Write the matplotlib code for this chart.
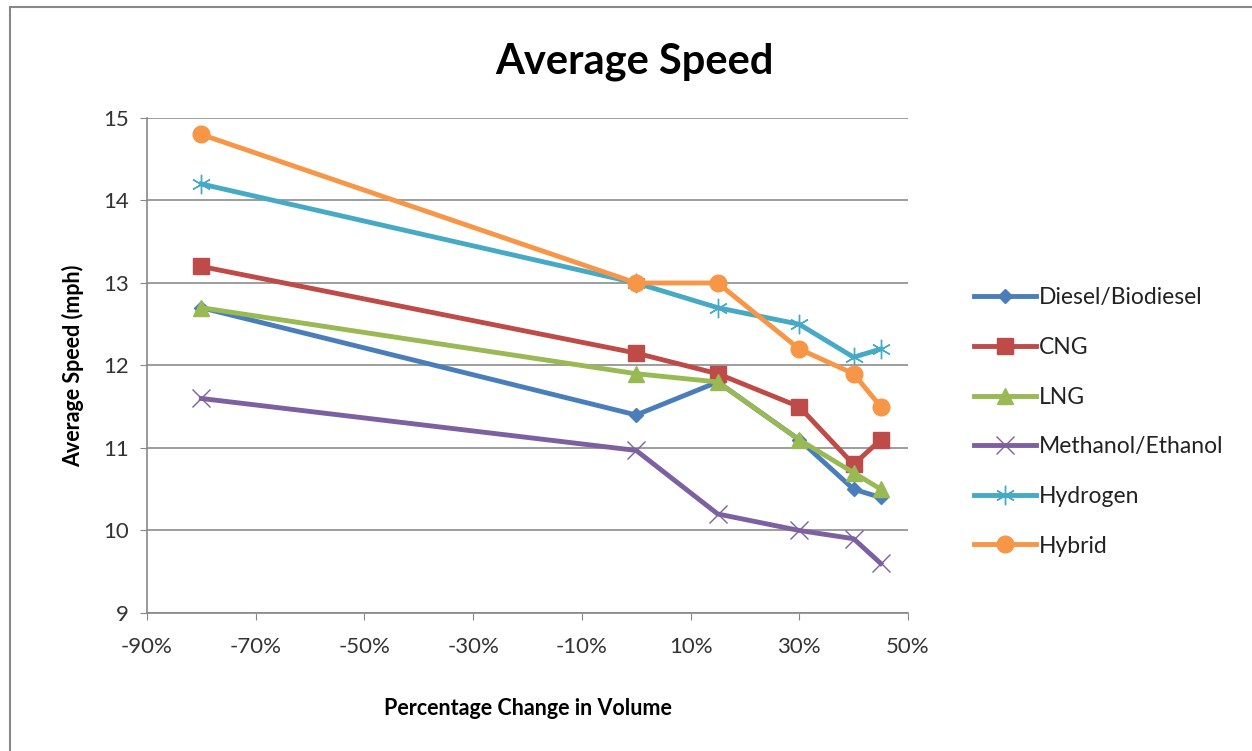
import matplotlib.pyplot as plt
from matplotlib.patches import Rectangle
from matplotlib.ticker import FuncFormatter

plt.rcParams['font.family'] = ['Lato', 'DejaVu Sans']

# percentage change in volume
volume = [-80, 0, 15, 30, 40, 45]

diesel = [12.7, 11.4, 11.8, 11.1, 10.5, 10.4]
cng = [13.2, 12.15, 11.9, 11.5, 10.8, 11.1]
lng = [12.7, 11.9, 11.8, 11.1, 10.7, 10.5]
methanol = [11.6, 10.97, 10.2, 10.0, 9.9, 9.6]
hydrogen = [14.2, 13.0, 12.7, 12.5, 12.1, 12.2]
hybrid = [14.8, 13.0, 13.0, 12.2, 11.9, 11.5]

names = ['Diesel/Biodiesel', 'CNG', 'LNG', 'Methanol/Ethanol', 'Hydrogen', 'Hybrid']
series = [diesel, cng, lng, methanol, hydrogen, hybrid]
colores = ['#4A7EBB', '#BE4B48', '#98B954', '#7D60A0', '#46AAC5', '#F79646']
marcas = ['D', 's', '^', 'x', '*', 'o']
tamanos = [7, 11, 11, 13, 14, 12]

fig = plt.figure(figsize=(12.52, 7.51), dpi=100)
ax = fig.add_axes([0.1174, 0.1838, 0.6078, 0.6591])

for i in range(len(series)):
    if marcas[i] == '*':
        # asterisco tipo excel, sin relleno
        ax.plot(volume, series[i], color=colores[i], lw=3.5, marker=(6, 2, 0),
                ms=tamanos[i], mew=1.0, mec=colores[i], label=names[i])
    elif marcas[i] == 'x':
        ax.plot(volume, series[i], color=colores[i], lw=3.5, marker='x',
                ms=tamanos[i], mew=1.0, mec=colores[i], label=names[i])
    else:
        ax.plot(volume, series[i], color=colores[i], lw=3.5, marker=marcas[i],
                ms=tamanos[i], mec=colores[i], mfc=colores[i], label=names[i])

ax.set_xlim(-90, 50)
ax.set_ylim(9, 15)
ax.set_xticks(range(-90, 51, 20))
ax.set_yticks(range(9, 16))
ax.xaxis.set_major_formatter(FuncFormatter(lambda v, p: '%d%%' % v))
ax.tick_params(labelsize=16, colors='#333333', length=5, color='#888888')
ax.tick_params(axis='x', pad=12)
ax.tick_params(axis='y', pad=8)
ax.grid(axis='y', color='#8c8c8c', lw=1.2)
ax.set_axisbelow(True)
for s in ['top', 'right']:
    ax.spines[s].set_visible(False)
for s in ['left', 'bottom']:
    ax.spines[s].set_color('#888888')
    ax.spines[s].set_linewidth(1.2)

ax.set_xlabel('Percentage Change in Volume', fontsize=15.5, fontweight='bold', labelpad=30)
ax.set_ylabel('Average Speed (mph)', fontsize=15.5, fontweight='bold', labelpad=14)
fig.text(0.507, 0.918, 'Average Speed', fontsize=30, fontweight='bold', ha='center', va='center')

leg = ax.legend(loc='center left', bbox_to_anchor=(1.06, 0.386), frameon=False,
                fontsize=16.5, handlelength=2.7, handletextpad=0.1, labelspacing=1.25)
for t in leg.get_texts():
    t.set_color('#222222')

# marco del grafico
fig.patches.append(Rectangle((10 / 1252, -0.01), 1.0, 1 - 7 / 751 + 0.01,
                             transform=fig.transFigure, fill=False,
                             edgecolor='#888888', lw=1.5))

fig.savefig('out.png', dpi=100)
